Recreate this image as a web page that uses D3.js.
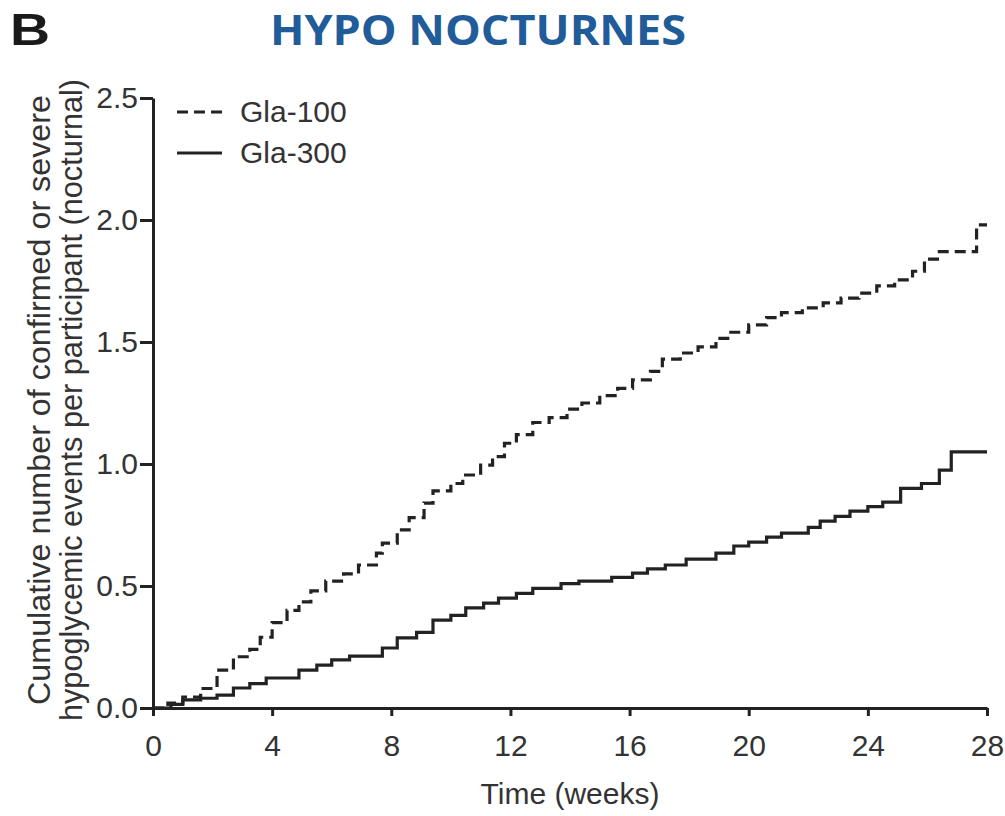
<!DOCTYPE html>
<html>
<head>
<meta charset="utf-8">
<script src="https://cdn.jsdelivr.net/npm/d3@7"></script>
<style>
  body { margin: 0; background: #fff; }
  svg { display: block; }
  .tick text { font-family: "Liberation Sans", Arial, sans-serif; font-size: 30px; fill: #333; }
  .domain, .tick line { stroke: #222; stroke-width: 3; }
</style>
</head>
<body>
<svg id="chart" width="1005" height="816"></svg>
<script>
// Weeks at which each step starts, and the cumulative value from that week on
const gla100Weeks = [0, 0.5, 1.0, 1.6, 2.15, 2.7, 3.25, 3.6, 4.0, 4.5, 4.9, 5.3, 5.8, 6.4, 6.9, 7.5, 7.7, 8.2, 8.6, 9.1, 9.4, 10.0, 10.4, 11.0, 11.4, 11.8, 12.2, 12.75, 13.3, 13.9, 14.4, 15.0, 15.6, 16.1, 16.7, 17.1, 17.7, 18.3, 18.9, 19.4, 20.0, 20.6, 21.1, 21.8, 22.5, 23.1, 23.7, 24.3, 24.9, 25.5, 25.9, 26.4, 27.65, 28.0];
const gla100Values = [0, 0.02, 0.045, 0.08, 0.155, 0.21, 0.24, 0.29, 0.35, 0.40, 0.435, 0.48, 0.52, 0.55, 0.586, 0.635, 0.676, 0.73, 0.78, 0.84, 0.89, 0.92, 0.955, 0.995, 1.03, 1.085, 1.12, 1.17, 1.19, 1.225, 1.25, 1.28, 1.31, 1.345, 1.38, 1.43, 1.455, 1.48, 1.515, 1.54, 1.57, 1.60, 1.62, 1.64, 1.66, 1.68, 1.70, 1.73, 1.755, 1.79, 1.84, 1.87, 1.98, 1.98];

const gla300Weeks = [0, 0.6, 1.0, 1.6, 2.15, 2.7, 3.25, 3.8, 4.9, 5.5, 6.0, 6.6, 7.7, 8.2, 8.85, 9.4, 10.0, 10.5, 11.1, 11.6, 12.2, 12.75, 13.7, 14.3, 15.4, 16.1, 16.6, 17.2, 17.9, 18.9, 19.5, 20.0, 20.6, 21.1, 22.0, 22.4, 22.9, 23.4, 24.0, 24.5, 25.1, 25.8, 26.4, 26.8, 28.0];
const gla300Values = [0, 0.015, 0.033, 0.04, 0.053, 0.082, 0.10, 0.123, 0.155, 0.176, 0.197, 0.213, 0.246, 0.287, 0.31, 0.36, 0.38, 0.41, 0.43, 0.45, 0.47, 0.49, 0.51, 0.52, 0.535, 0.553, 0.57, 0.586, 0.61, 0.635, 0.664, 0.68, 0.70, 0.717, 0.74, 0.766, 0.785, 0.807, 0.825, 0.844, 0.90, 0.92, 0.975, 1.05, 1.05];

const xTicks = [0, 4, 8, 12, 16, 20, 24, 28];
const yTicks = [0, 0.5, 1.0, 1.5, 2.0, 2.5];
const seriesNames = ['Gla-100', 'Gla-300'];

const svg = d3.select('#chart');
const margins = {top: 98, right: 18, bottom: 108, left: 153};
const W = 1005, H = 816;
const font = '"Liberation Sans", Arial, sans-serif';

const x = d3.scaleLinear().domain([0, 28]).range([margins.left, W - margins.right]);
const y = d3.scaleLinear().domain([0, 2.5]).range([H - margins.bottom, margins.top]);

const series = [
	{ name: seriesNames[0], dash: '11,6', points: gla100Weeks.map((t, i) => ({ t, v: gla100Values[i] })) },
	{ name: seriesNames[1], dash: null, points: gla300Weeks.map((t, i) => ({ t, v: gla300Values[i] })) }
];

// Panel letter + title
svg.append('text')
	.attr('x', 10).attr('y', 45)
	.attr('textLength', 40).attr('lengthAdjust', 'spacingAndGlyphs')
	.style('font-family', font)
	.style('font-weight', 'bold').style('font-size', '44px').style('fill', '#1a1a1a')
	.text('B');

svg.append('text')
	.attr('x', 270).attr('y', 45)
	.attr('textLength', 416).attr('lengthAdjust', 'spacingAndGlyphs')
	.style('font-family', '"Open Sans", sans-serif')
	.style('font-weight', 'bold').style('font-size', '42px').style('fill', '#1f5c99')
	.text('HYPO NOCTURNES');

// Lines
const line = d3.line().x(d => x(d.t)).y(d => y(d.v)).curve(d3.curveStepAfter);
svg.append('g').selectAll('path').data(series).join('path')
	.attr('d', d => line(d.points))
	.attr('fill', 'none')
	.attr('stroke', '#222')
	.attr('stroke-width', 3.2)
	.attr('stroke-dasharray', d => d.dash);

// Axes
svg.append('g')
	.attr('transform', `translate(0, ${y(0)})`)
	.call(d3.axisBottom(x).tickValues(xTicks).tickSize(8).tickSizeOuter(0).tickPadding(19));

svg.append('g')
	.attr('transform', `translate(${x(0)}, 0)`)
	.call(d3.axisLeft(y).tickValues(yTicks).tickFormat(d3.format('.1f')).tickSize(13).tickSizeOuter(0).tickPadding(2));

// Axis titles
svg.append('text')
	.attr('x', 570).attr('y', 804)
	.attr('text-anchor', 'middle')
	.style('font-family', font)
	.style('font-size', '30px').style('fill', '#333')
	.text('Time (weeks)');

const yTitle = svg.append('text')
	.attr('transform', 'translate(50, 400) rotate(-90)')
	.attr('text-anchor', 'middle')
	.style('font-family', font)
	.style('font-size', '31px').style('fill', '#333');
yTitle.append('tspan').attr('x', 0).attr('y', 0)
	.attr('textLength', 610).attr('lengthAdjust', 'spacingAndGlyphs')
	.text('Cumulative number of confirmed or severe');
yTitle.append('tspan').attr('x', 0).attr('y', 32)
	.attr('textLength', 642).attr('lengthAdjust', 'spacingAndGlyphs')
	.text('hypoglycemic events per participant (nocturnal)');

// Legend
const legend = svg.append('g').selectAll('g').data(series).join('g')
	.attr('transform', (d, i) => `translate(177, ${112 + i * 41})`);
legend.append('line')
	.attr('x1', 0).attr('x2', 45)
	.attr('stroke', '#222').attr('stroke-width', 3)
	.attr('stroke-dasharray', d => d.dash);
legend.append('text')
	.attr('x', 63).attr('y', 10)
	.style('font-family', font)
	.style('font-size', '30px').style('fill', '#333')
	.text(d => d.name);
</script>
</body>
</html>
